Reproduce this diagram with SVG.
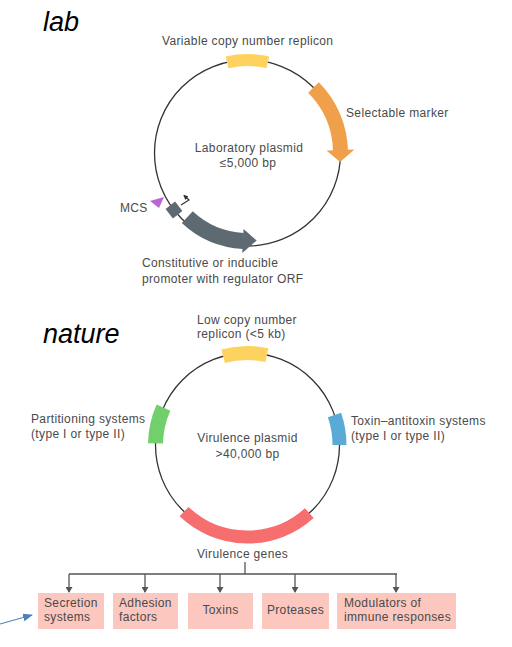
<svg xmlns="http://www.w3.org/2000/svg" width="512" height="647" viewBox="0 0 512 647">
<style>
  .t { font-family: "Liberation Sans", Arial, sans-serif; font-size: 12px; letter-spacing: 0.35px; fill: #4a4a4a; }
  .title { font-family: "Liberation Sans", Arial, sans-serif; font-style: italic; font-size: 27px; fill: #000; }
  .bb { fill: none; stroke: #333; stroke-width: 1.3; }
  .seg { fill: none; }
  .box { fill: #fcc7bf; }
  .conn { fill: none; stroke: #555; stroke-width: 1.3; }
</style>
<defs>
  <marker id="ah" markerUnits="userSpaceOnUse" markerWidth="6" markerHeight="7" refX="5" refY="3.5" orient="auto">
    <path d="M0,0 L6,3.5 L0,7 z" fill="#555"/>
  </marker>
  <marker id="ahs" markerUnits="userSpaceOnUse" markerWidth="5" markerHeight="5" refX="4" refY="2.5" orient="auto">
    <path d="M0,0 L5,2.5 L0,5 z" fill="#333"/>
  </marker>
  <marker id="ahb" markerUnits="userSpaceOnUse" markerWidth="10" markerHeight="8" refX="9" refY="4" orient="auto">
    <path d="M0,0 L10,4 L0,8 z" fill="#4f81bd"/>
  </marker>
</defs>
<rect width="512" height="647" fill="#fff"/>

<text class="title" x="43" y="31">lab</text>
<text class="title" x="43" y="343">nature</text>

<!-- Laboratory plasmid -->
<g id="lab-plasmid">
  <circle class="bb" cx="247.5" cy="153" r="93"/>
  <text class="t" x="249" y="152" text-anchor="middle">Laboratory plasmid</text>
  <text class="t" x="248" y="167" text-anchor="middle">≤5,000 bp</text>
</g>
<g id="lab-replicon">
  <circle class="seg" cx="247.5" cy="153" r="93" stroke="#fed25e" stroke-width="12" pathLength="360" stroke-dasharray="25.4 334.6" transform="rotate(-102.7 247.5 153)"/>
  <text class="t" x="162" y="45">Variable copy number replicon</text>
</g>
<g id="lab-marker">
  <circle class="seg" cx="247.5" cy="153" r="93" stroke="#f0a04b" stroke-width="15" pathLength="360" stroke-dasharray="43.5 316.5" transform="rotate(-44.8 247.5 153)"/>
  <polygon points="326.5,150.5 354.4,149.6 340.1,162.1" fill="#f0a04b"/>
  <text class="t" x="346" y="117">Selectable marker</text>
</g>
<g id="lab-orf">
  <circle class="seg" cx="247.5" cy="153" r="88" stroke="#5e6a72" stroke-width="16" pathLength="360" stroke-dasharray="40.5 319.5" transform="rotate(92.7 247.5 153)"/>
  <polygon points="243.5,228.9 242.3,252.9 256.7,240.5" fill="#5e6a72"/>
  <rect x="168" y="204" width="12" height="12" fill="#5e6a72" transform="rotate(52.2 174 210)"/>
  <polyline points="181,205 189,200 184,195.5" fill="none" stroke="#333" stroke-width="1.2" marker-end="url(#ahs)"/>
  <text class="t" x="142" y="267">Constitutive or inducible</text>
  <text class="t" x="142" y="283">promoter with regulator ORF</text>
</g>
<g id="lab-mcs">
  <polygon points="150,201 164,197 159,208" fill="#b667d4"/>
  <text class="t" x="120" y="212">MCS</text>
</g>

<!-- Virulence plasmid -->
<g id="vir-plasmid">
  <circle class="bb" cx="247.5" cy="445" r="92"/>
  <text class="t" x="247.5" y="442" text-anchor="middle">Virulence plasmid</text>
  <text class="t" x="247.5" y="458" text-anchor="middle">&gt;40,000 bp</text>
</g>
<g id="vir-replicon">
  <circle class="seg" cx="247.5" cy="445" r="92" stroke="#fed25e" stroke-width="14" pathLength="360" stroke-dasharray="27.6 332.4" transform="rotate(-105.4 247.5 445)"/>
  <text class="t" x="197" y="324">Low copy number</text>
  <text class="t" x="197" y="338">replicon (&lt;5 kb)</text>
</g>
<g id="vir-partitioning">
  <circle class="seg" cx="247.5" cy="445" r="92" stroke="#72d06c" stroke-width="15" pathLength="360" stroke-dasharray="23 337" transform="rotate(181 247.5 445)"/>
  <text class="t" x="31" y="423">Partitioning systems</text>
  <text class="t" x="31" y="438">(type I or type II)</text>
</g>
<g id="vir-ta">
  <circle class="seg" cx="247.5" cy="445" r="92" stroke="#5aaad8" stroke-width="14" pathLength="360" stroke-dasharray="19 341" transform="rotate(-19 247.5 445)"/>
  <text class="t" x="351" y="425">Toxin–antitoxin systems</text>
  <text class="t" x="351" y="440">(type I or type II)</text>
</g>
<g id="vir-genes">
  <circle class="seg" cx="247.5" cy="445" r="92" stroke="#f76e6e" stroke-width="13" pathLength="360" stroke-dasharray="85.7 274.3" transform="rotate(47.8 247.5 445)"/>
  <text class="t" x="242.5" y="558" text-anchor="middle">Virulence genes</text>
</g>

<!-- Boxes -->
<g id="box-secretion">
  <rect class="box" x="38" y="593" width="66" height="36"/>
  <text class="t" x="44" y="607">Secretion</text>
  <text class="t" x="44" y="621">systems</text>
</g>
<g id="box-adhesion">
  <rect class="box" x="113" y="593" width="65" height="36"/>
  <text class="t" x="119" y="607">Adhesion</text>
  <text class="t" x="119" y="621">factors</text>
</g>
<g id="box-toxins">
  <rect class="box" x="188" y="593" width="65" height="36"/>
  <text class="t" x="220.5" y="614" text-anchor="middle">Toxins</text>
</g>
<g id="box-proteases">
  <rect class="box" x="262" y="593" width="67" height="36"/>
  <text class="t" x="295.5" y="614" text-anchor="middle">Proteases</text>
</g>
<g id="box-modulators">
  <rect class="box" x="337" y="593" width="119" height="36"/>
  <text class="t" x="344" y="607">Modulators of</text>
  <text class="t" x="344" y="621">immune responses</text>
</g>

<!-- Connectors -->
<g id="connectors">
  <line class="conn" x1="245" y1="562" x2="245" y2="574"/>
  <line class="conn" x1="69" y1="574" x2="397" y2="574"/>
  <line class="conn" x1="69" y1="574" x2="69" y2="592" marker-end="url(#ah)"/>
  <line class="conn" x1="145" y1="574" x2="145" y2="592" marker-end="url(#ah)"/>
  <line class="conn" x1="220" y1="574" x2="220" y2="592" marker-end="url(#ah)"/>
  <line class="conn" x1="295" y1="574" x2="295" y2="592" marker-end="url(#ah)"/>
  <line class="conn" x1="396" y1="574" x2="396" y2="592" marker-end="url(#ah)"/>
  <line x1="0" y1="624" x2="32" y2="615" stroke="#4f81bd" stroke-width="1.2" marker-end="url(#ahb)"/>
</g>
</svg>
